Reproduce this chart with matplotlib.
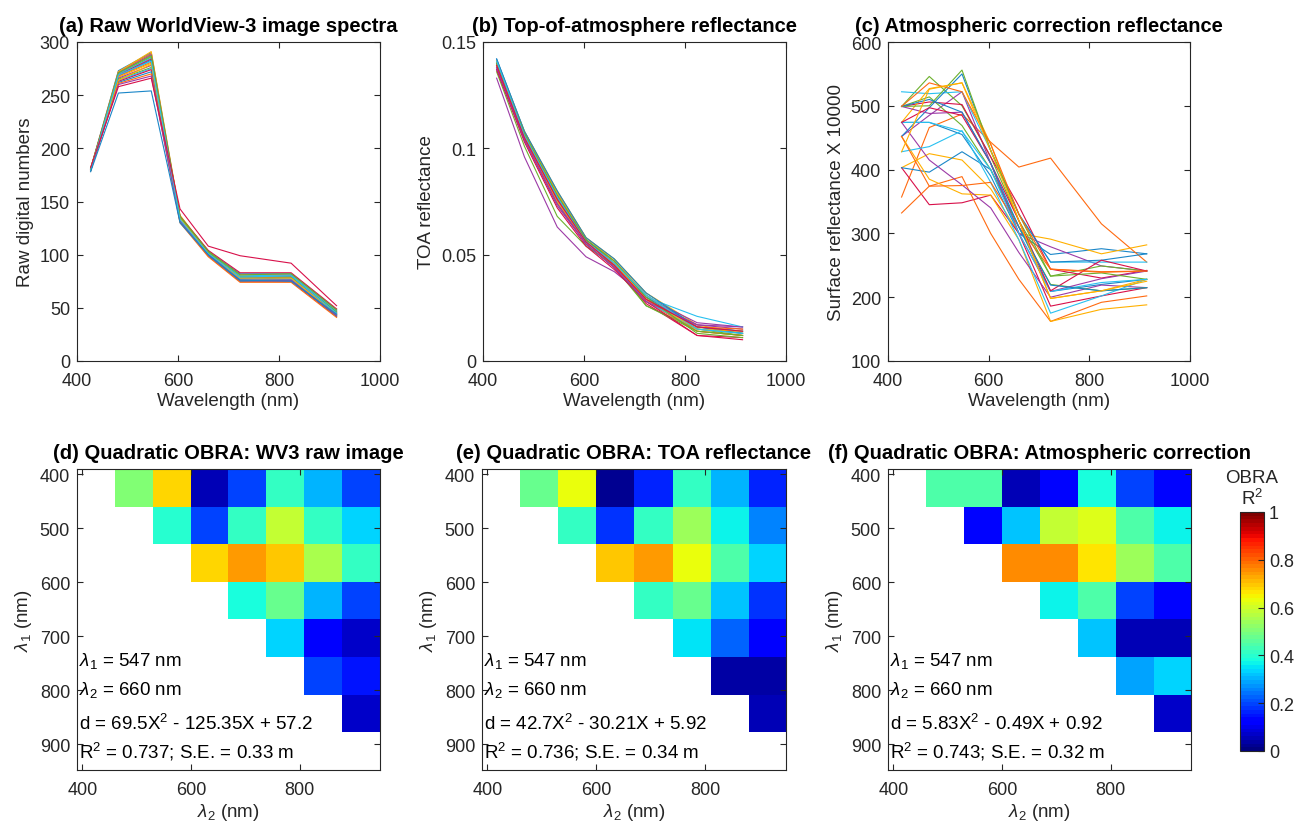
import numpy as np
import matplotlib
matplotlib.use('Agg')
import matplotlib.pyplot as plt

plt.rcParams['font.family'] = ['Liberation Sans', 'DejaVu Sans']
plt.rcParams['mathtext.fontset'] = 'custom'
plt.rcParams['mathtext.rm'] = 'Liberation Sans'
plt.rcParams['mathtext.it'] = 'Liberation Sans:italic'
plt.rcParams['mathtext.bf'] = 'Liberation Sans:bold'

# WorldView-3 band centres (nm)
bands = [427, 482, 547, 604, 660, 723, 824, 914]

# (a) raw digital numbers, one list per spectrum
raw_dn = [
    [181, 273, 290, 136, 103, 82, 82, 48],
    [180, 272, 289, 135, 102, 81, 81, 47],
    [181, 272, 291, 137, 103, 80, 80, 46],
    [180, 271, 288, 134, 102, 79, 80, 46],
    [179, 270, 286, 133, 101, 78, 79, 45],
    [180, 270, 285, 135, 102, 80, 81, 47],
    [181, 269, 284, 136, 104, 83, 83, 49],
    [179, 268, 283, 133, 101, 77, 78, 44],
    [180, 268, 281, 132, 100, 76, 77, 43],
    [179, 267, 280, 131, 100, 76, 76, 43],
    [180, 266, 278, 134, 101, 78, 79, 45],
    [181, 265, 276, 135, 102, 79, 79, 46],
    [180, 264, 275, 133, 100, 77, 77, 44],
    [179, 263, 274, 132, 99, 75, 75, 42],
    [180, 262, 272, 131, 99, 75, 76, 42],
    [179, 261, 270, 130, 98, 74, 74, 41],
    [181, 264, 279, 134, 101, 78, 78, 44],
    [180, 260, 268, 132, 100, 76, 76, 43],
    [180, 271, 287, 136, 103, 81, 82, 48],
    [179, 269, 282, 133, 101, 79, 80, 45],
    [182, 258, 266, 143, 108, 99, 92, 52],
    [178, 252, 254, 130, 100, 76, 75, 44],
]

# (b) top-of-atmosphere reflectance
toa_refl = [
    [0.142, 0.108, 0.079, 0.057, 0.047, 0.031, 0.016, 0.014],
    [0.141, 0.107, 0.078, 0.057, 0.046, 0.029, 0.014, 0.012],
    [0.141, 0.108, 0.080, 0.058, 0.048, 0.032, 0.017, 0.013],
    [0.133, 0.096, 0.063, 0.049, 0.042, 0.030, 0.018, 0.016],
    [0.139, 0.105, 0.074, 0.055, 0.044, 0.026, 0.015, 0.012],
    [0.140, 0.106, 0.077, 0.056, 0.046, 0.030, 0.021, 0.016],
    [0.138, 0.104, 0.075, 0.055, 0.044, 0.027, 0.012, 0.011],
    [0.140, 0.107, 0.077, 0.057, 0.046, 0.030, 0.016, 0.014],
    [0.139, 0.106, 0.076, 0.056, 0.045, 0.028, 0.014, 0.012],
    [0.141, 0.107, 0.079, 0.058, 0.047, 0.031, 0.015, 0.013],
    [0.137, 0.104, 0.073, 0.055, 0.044, 0.029, 0.017, 0.015],
    [0.136, 0.101, 0.068, 0.054, 0.045, 0.026, 0.014, 0.012],
    [0.138, 0.105, 0.075, 0.056, 0.045, 0.028, 0.015, 0.013],
    [0.137, 0.103, 0.072, 0.054, 0.043, 0.028, 0.012, 0.010],
    [0.142, 0.108, 0.080, 0.058, 0.048, 0.032, 0.016, 0.013],
    [0.140, 0.106, 0.076, 0.056, 0.045, 0.029, 0.016, 0.015],
    [0.139, 0.105, 0.075, 0.056, 0.046, 0.029, 0.015, 0.014],
    [0.138, 0.104, 0.074, 0.055, 0.044, 0.028, 0.017, 0.016],
    [0.140, 0.107, 0.078, 0.057, 0.047, 0.030, 0.013, 0.011],
    [0.141, 0.106, 0.077, 0.056, 0.046, 0.031, 0.015, 0.013],
    [0.139, 0.105, 0.076, 0.056, 0.045, 0.029, 0.016, 0.014],
]

# (c) surface reflectance x 10000 after atmospheric correction
surf_refl = [
    [474, 474, 455, 390, 300, 267, 276, 268],
    [357, 466, 487, 443, 404, 418, 315, 255],
    [403, 425, 415, 370, 300, 291, 268, 282],
    [452, 485, 522, 410, 300, 279, 249, 241],
    [499, 546, 500, 420, 320, 233, 249, 241],
    [522, 519, 522, 430, 330, 255, 255, 255],
    [403, 345, 348, 360, 300, 186, 202, 215],
    [403, 396, 428, 400, 310, 209, 220, 228],
    [332, 374, 389, 300, 228, 162, 192, 202],
    [452, 385, 362, 360, 290, 162, 181, 188],
    [474, 415, 376, 340, 270, 200, 219, 215],
    [499, 514, 469, 400, 310, 220, 210, 215],
    [428, 436, 461, 380, 290, 175, 202, 228],
    [499, 506, 502, 420, 343, 244, 230, 242],
    [452, 497, 550, 430, 330, 255, 258, 268],
    [452, 374, 375, 380, 310, 244, 240, 241],
    [474, 527, 536, 440, 320, 198, 210, 228],
    [499, 488, 490, 410, 300, 209, 229, 241],
    [499, 500, 556, 430, 330, 233, 238, 228],
    [474, 474, 460, 400, 300, 209, 223, 228],
    [474, 497, 485, 410, 320, 210, 258, 241],
    [499, 510, 490, 410, 310, 219, 210, 215],
    [499, 536, 522, 440, 330, 244, 239, 241],
    [428, 526, 536, 430, 320, 198, 210, 225],
]

# OBRA R^2 band-pair matrices, upper triangle rows (lambda1 index -> lambda2 > lambda1)
obra_raw = [
    [0.50, 0.68, 0.05, 0.20, 0.42, 0.30, 0.19],
    [0.40, 0.20, 0.41, 0.59, 0.41, 0.34],
    [0.68, 0.74, 0.69, 0.55, 0.42],
    [0.38, 0.47, 0.30, 0.19],
    [0.34, 0.11, 0.07],
    [0.20, 0.15],
    [0.07],
]
obra_toa = [
    [0.48, 0.63, 0.03, 0.17, 0.42, 0.30, 0.17],
    [0.42, 0.18, 0.42, 0.54, 0.37, 0.26],
    [0.69, 0.74, 0.64, 0.44, 0.33],
    [0.42, 0.48, 0.32, 0.18],
    [0.35, 0.22, 0.12],
    [0.04, 0.04],
    [0.06],
]
obra_atm = [
    [0.44, 0.44, 0.06, 0.14, 0.39, 0.20, 0.13],
    [0.14, 0.32, 0.58, 0.61, 0.44, 0.37],
    [0.76, 0.76, 0.66, 0.54, 0.45],
    [0.37, 0.45, 0.20, 0.13],
    [0.32, 0.06, 0.06],
    [0.29, 0.34],
    [0.07],
]

fit_text = [
    ('69.5X$^2$ - 125.35X + 57.2', '0.737', '0.33'),
    ('42.7X$^2$ - 30.21X + 5.92', '0.736', '0.34'),
    ('5.83X$^2$ - 0.49X + 0.92', '0.743', '0.32'),
]

line_colors = ['#1a86c8', '#ff6a10', '#ffb000', '#9c3aa6', '#6cb02c', '#28c0f0', '#d8104a']
axis_grey = '#262626'

W, H = 1301, 829
fig = plt.figure(figsize=(W / 100, H / 100), dpi=100)


def rect(l, t, r, b):
    return [l / W, 1 - b / H, (r - l) / W, (b - t) / H]


def style(ax):
    ax.tick_params(direction='in', top=True, right=True, length=4, width=0.8,
                   labelsize=13, colors=axis_grey)
    ax.tick_params(axis='y', pad=5)
    ax.tick_params(axis='x', pad=8)
    for s in ax.spines.values():
        s.set_color(axis_grey)
        s.set_linewidth(0.8)


top_specs = [
    (rect(77, 43, 380, 362), raw_dn, '(a) Raw WorldView-3 image spectra',
     'Raw digital numbers', (0, 300), np.arange(0, 301, 50), None),
    (rect(483, 43, 786, 362), toa_refl, '(b) Top-of-atmosphere reflectance',
     'TOA reflectance', (0, 0.15), [0, 0.05, 0.1, 0.15], ['0', '0.05', '0.1', '0.15']),
    (rect(888, 43, 1190, 362), surf_refl, '(c) Atmospheric correction reflectance',
     'Surface reflectance X 10000', (100, 600), np.arange(100, 601, 100), None),
]

for pos, spectra, title, ylabel, ylim, yticks, yticklabels in top_specs:
    ax = fig.add_axes(pos)
    for i, s in enumerate(spectra):
        ax.plot(bands, s, color=line_colors[i % 7], lw=0.8)
    ax.set_xlim(400, 1000)
    ax.set_ylim(*ylim)
    ax.set_xticks([400, 600, 800, 1000])
    ax.set_yticks(yticks)
    if yticklabels:
        ax.set_yticklabels(yticklabels)
    ax.set_xlabel('Wavelength (nm)', fontsize=13.5, color=axis_grey, labelpad=2)
    ax.set_ylabel(ylabel, fontsize=13.5, color=axis_grey, labelpad=4)
    ax.set_title(title, fontsize=14.5, fontweight='bold', pad=8)
    style(ax)

# heatmap extent (nm), 8 x 8 cells of band pairs
lo, hi = 390, 948
cmap = plt.get_cmap('jet', 64)

bottom_specs = [
    (rect(77, 470, 380, 771), obra_raw, '(d) Quadratic OBRA: WV3 raw image'),
    (rect(482, 470, 786, 771), obra_toa, '(e) Quadratic OBRA: TOA reflectance'),
    (rect(888, 470, 1191, 771), obra_atm, '(f) Quadratic OBRA: Atmospheric correction'),
]

im = None
for k, (pos, rows, title) in enumerate(bottom_specs):
    mat = np.full((8, 8), np.nan)
    for i, vals in enumerate(rows):
        mat[i, i + 1:] = vals
    ax = fig.add_axes(pos)
    im = ax.imshow(mat, cmap=cmap, vmin=0, vmax=1, extent=(lo, hi, hi, lo),
                   aspect='auto', interpolation='nearest')
    ax.set_xlim(lo, hi)
    ax.set_ylim(hi, lo)
    ax.set_xticks([400, 600, 800])
    ax.set_yticks([400, 500, 600, 700, 800, 900])
    ax.set_xlabel(r'$\lambda_2$ (nm)', fontsize=13.5, color=axis_grey, labelpad=2)
    ax.set_ylabel(r'$\lambda_1$ (nm)', fontsize=13.5, color=axis_grey, labelpad=4)
    ax.set_title(title, fontsize=14.5, fontweight='bold', pad=8)
    style(ax)
    eq, r2, se = fit_text[k]
    tx = 394
    ax.text(tx, 744, r'$\lambda_1$ = 547 nm', fontsize=13.5, va='center')
    ax.text(tx, 797, r'$\lambda_2$ = 660 nm', fontsize=13.5, va='center')
    ax.text(tx, 861, 'd = ' + eq, fontsize=13.5, va='center')
    ax.text(tx, 913, 'R$^2$ = ' + r2 + '; S.E. = ' + se + ' m', fontsize=13.5, va='center')

cax = fig.add_axes(rect(1240, 513, 1264, 752))
cb = fig.colorbar(im, cax=cax, ticks=[0, 0.2, 0.4, 0.6, 0.8, 1])
cb.ax.set_yticklabels(['0', '0.2', '0.4', '0.6', '0.8', '1'])
cb.ax.tick_params(direction='in', length=4, labelsize=13, colors=axis_grey)
cb.outline.set_edgecolor(axis_grey)
cb.outline.set_linewidth(0.8)
cax.set_title('OBRA\nR$^2$', fontsize=13.5, color=axis_grey, pad=6, linespacing=1.1)

fig.savefig('out.png', dpi=100)
